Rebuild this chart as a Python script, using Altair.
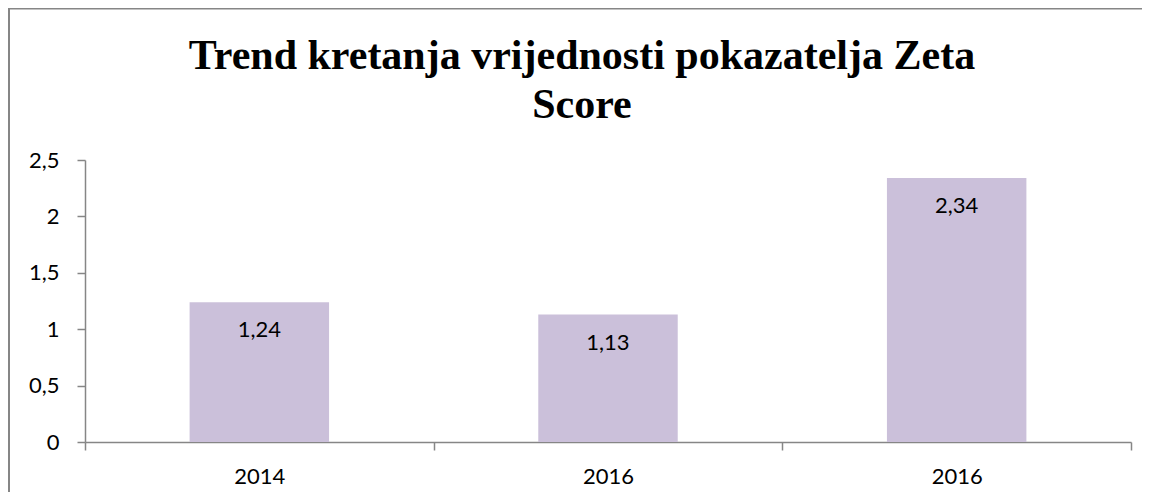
import json
import altair as alt
import pandas as pd

# ---- data ----
years = ["2014", "2016", "2016"]
values = [1.24, 1.13, 2.34]
value_labels = ["1,24", "1,13", "2,34"]
title_lines = ["Trend kretanja vrijednosti pokazatelja Zeta", "Score"]

df = pd.DataFrame({
    "idx": list(range(len(years))),
    "year": years,
    "value": values,
    "label": value_labels,
})

W, H = 1046, 282
AXIS_GREY = "#868686"
BAR = "#CBC0DA"
FONT = "Lato"

x_enc = alt.X(
    "idx:O",
    scale=alt.Scale(paddingInner=0, paddingOuter=0),
    axis=alt.Axis(
        title=None,
        labelExpr=f"{json.dumps(years)}[datum.value]",
        labelAngle=0,
        tickBand="extent",
        tickSize=8,
        labelPadding=16,
        labelFontSize=22,
        labelFont=FONT,
        labelColor="#000000",
        domainColor=AXIS_GREY,
        tickColor=AXIS_GREY,
        domainWidth=1.5,
        tickWidth=1.5,
    ),
)

y_enc = alt.Y(
    "value:Q",
    scale=alt.Scale(domain=[0, 2.5], nice=False),
    axis=alt.Axis(
        title=None,
        values=[0, 0.5, 1, 1.5, 2, 2.5],
        format=".1~f",
        labelExpr="replace(datum.label, '.', ',')",
        grid=False,
        tickSize=8,
        labelPadding=18,
        labelFontSize=22,
        labelFont=FONT,
        labelColor="#000000",
        domainColor=AXIS_GREY,
        tickColor=AXIS_GREY,
        domainWidth=1.5,
        tickWidth=1.5,
    ),
)

bars = alt.Chart(df).mark_bar(
    color=BAR, width=alt.RelativeBandSize(0.4)
).encode(x=x_enc, y=y_enc)

texts = alt.Chart(df).mark_text(
    baseline="middle", align="center", dy=28, fontSize=22, font=FONT, color="#000000"
).encode(x=alt.X("idx:O"), y=alt.Y("value:Q"), text="label:N")

one = pd.DataFrame({"k": [0]})
border_left = alt.Chart(one).mark_rule(
    stroke=AXIS_GREY, strokeWidth=2, clip=False
).encode(x=alt.value(-76), y=alt.value(-152.5), y2=alt.value(H + 70))
border_top = alt.Chart(one).mark_rule(
    stroke=AXIS_GREY, strokeWidth=2, clip=False
).encode(x=alt.value(-77), x2=alt.value(W + 11), y=alt.value(-151.5))

chart = alt.layer(border_left, border_top, bars, texts).properties(
    width=W,
    height=H,
    background="#ffffff",
    title=alt.TitleParams(
        text=title_lines,
        font="Liberation Serif",
        fontSize=42,
        fontWeight="bold",
        color="#000000",
        anchor="middle",
        frame="group",
        dx=-26,
        offset=-120,
        lineHeight=49,
    ),
    autosize=alt.AutoSizeParams(type="none"),
    padding={"left": 77, "top": 152, "right": 11, "bottom": 50},
).configure_view(strokeWidth=0, stroke="transparent")

chart.save("out.html", embed_options={"renderer": "svg", "actions": False})
